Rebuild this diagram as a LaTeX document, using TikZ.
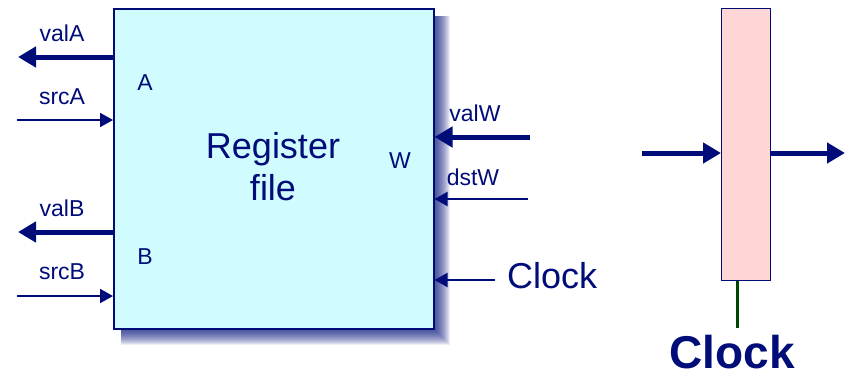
\documentclass[tikz,border=0pt]{standalone}
\usepackage{fontspec}
\setmainfont{Liberation Sans}
\usetikzlibrary{arrows.meta,calc}
\definecolor{navy}{RGB}{0,12,120}
\definecolor{rfcyan}{RGB}{208,252,255}
\definecolor{regpink}{RGB}{255,214,214}
\definecolor{clkgreen}{RGB}{0,70,0}
\tikzset{
  thickarr/.style={navy, line width=5pt, -{Triangle[length=18pt,width=20pt]}},
  thinarr/.style={navy, line width=2pt, -{Triangle[length=13pt,width=14pt]}},
  lbl/.style={navy, font=\fontsize{23}{26}\selectfont, inner sep=0pt},
  biglbl/.style={navy, font=\fontsize{36}{42}\selectfont, inner sep=0pt},
}
\begin{document}
\begin{tikzpicture}[x=1pt,y=-1pt]
\useasboundingbox (0,0) rectangle (845,376);
% shadow of the register file
\foreach \d in {1,...,17}{
  \fill[navy, opacity=0.075] (121,16) rectangle (433+\d,328+\d);
}
% register file
\node[draw=navy, line width=1.5pt, fill=rfcyan, minimum width=320pt, minimum height=320pt, anchor=north west, inner sep=0pt] (rf) at (113,8) {};
\node[biglbl, align=center] (rftext) at (273,167) {Register\\file};
\node[lbl] (pA) at (145,83) {A};
\node[lbl] (pB) at (145,257) {B};
\node[lbl] (pW) at (400,161) {W};
% free ends
\coordinate (valAend) at (18,57);
\coordinate (srcAend) at (17,120);
\coordinate (valBend) at (18,232);
\coordinate (srcBend) at (17,296);
\coordinate (valWend) at (530,137);
\coordinate (dstWend) at (528,199);
\coordinate (clkend) at (495,280);
\draw[thickarr] (rf.west |- valAend) -- (valAend);
\draw[thinarr] (srcAend) -- (rf.west |- srcAend);
\draw[thickarr] (rf.west |- valBend) -- (valBend);
\draw[thinarr] (srcBend) -- (rf.west |- srcBend);
\draw[thickarr] (valWend) -- (rf.east |- valWend);
\draw[thinarr] (dstWend) -- (rf.east |- dstWend);
\draw[thinarr] (clkend) -- (rf.east |- clkend);
\node[lbl] (lvalA) at (62,33) {valA};
\node[lbl] (lsrcA) at (62,97) {srcA};
\node[lbl] (lvalB) at (62,208) {valB};
\node[lbl] (lsrcB) at (62,272) {srcB};
\node[lbl] (lvalW) at (475,113) {valW};
\node[lbl] (ldstW) at (473,177) {dstW};
\node[biglbl, anchor=west] (lclk) at (507,276) {Clock};
% pipeline register
\node[draw=navy, line width=1.2pt, fill=regpink, minimum width=49pt, minimum height=272pt, anchor=north west, inner sep=0pt] (reg) at (721,8) {};
\coordinate (inend) at (642,153);
\coordinate (outend) at (845,153);
\coordinate (clkbot) at (737,328);
\draw[thickarr] (inend) -- (reg.west |- inend);
\draw[thickarr] (reg.east |- outend) -- (outend);
\draw[clkgreen, line width=3pt] (reg.south -| clkbot) -- (clkbot);
\node[navy, font=\fontsize{46}{50}\selectfont\bfseries, inner sep=0pt] (bclk) at (732,352) {Clock};
\end{tikzpicture}
\end{document}
